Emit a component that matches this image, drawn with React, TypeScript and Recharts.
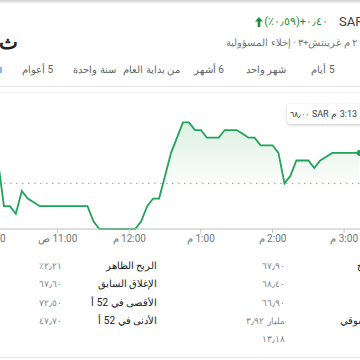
import React from 'react';
import { ComposedChart, Area, XAxis, YAxis, CartesianGrid, ReferenceLine } from 'recharts';

// minutes after 10:00 and the price at that minute (SAR)
const minutes = [
  0, 5, 10, 15, 20, 25, 30, 35, 40, 45, 50, 55, 60, 65, 70, 75, 80, 85, 90, 95,
  100, 105, 110, 115, 120, 125, 130, 135, 140, 145, 150, 155, 160, 165, 170, 175,
  180, 185, 190, 195, 200, 205, 210, 215, 220, 225, 230, 235, 240, 245, 250, 255,
  260, 265, 270, 275, 280, 285, 290, 295, 300, 305, 310, 313,
];
const prices = [
  67.9, 67.9, 67.9, 67.3, 67.3, 67.2, 67.5, 67.4, 67.35, 67.3, 67.3, 67.3, 67.3, 67.3, 67.3, 67.3, 67.3, 67.3, 67.1, 67.0,
  67.0, 67.0, 67.0, 67.0, 67.0, 67.0, 67.1, 67.3, 67.4, 67.4, 67.7, 68.0, 68.2, 68.4, 68.4, 68.3,
  68.3, 68.2, 68.2, 68.2, 68.3, 68.3, 68.3, 68.25, 68.2, 68.2, 68.1, 68.1, 68.1, 68.0, 67.6, 67.7,
  67.9, 67.9, 67.9, 67.8, 67.9, 67.95, 68.0, 68.0, 68.0, 68.0, 68.0, 68.0,
];
const prevClose = 67.6;

const xTicks = [0, 60, 120, 180, 240, 300];
const xTickLabels = ['ص\u200E 10:00', 'ص\u200E 11:00', 'م\u200E 12:00', 'م\u200E 1:00', 'م\u200E 2:00', 'م\u200E 3:00'];
const yTicks = [67, 67.5, 68, 68.5];

const tabs = ['5 أعوام', 'سنة واحدة', 'من بداية العام', '6 أشهر', 'شهر واحد', '5 أيام'];

const leftLabels = ['الربح الظاهر', 'الإغلاق السابق', 'الأقصى في 52 أ', 'الأدنى في 52 أ'];
const leftValues = ['٪٢٫٢١', '٦٧٫٦٠', '٧٢٫٥٠', '٤٧٫٧٠'];
const rightLabels = ['الافتتاح', 'الأعلى', 'الأدنى', 'رأس المال السوقي', 'نسبة السعر إلى الربح'];
const rightValues = ['٦٧٫٩٠', '٦٨٫٤٠', '٦٦٫٩٠', '٣٫٩٢ مليار', '١٣٫١٨'];

const data = minutes.map((m, i) => ({ m, v: prices[i] }));

const GREEN = '#22a35a';
const rowY = [266, 284, 302.5, 321, 338.5];
const rightLabelLeft = [357, 365, 365, 340, 365];

// keep the typed character order on screen
const ltr: React.CSSProperties = { unicodeBidi: 'bidi-override', direction: 'ltr' };

export default function App() {
  const last = data.length - 1;
  return (
    <div
      style={{
        position: 'fixed',
        left: 0,
        top: 0,
        width: 360,
        height: 360,
        overflow: 'hidden',
        background: '#fff',
        fontFamily: 'Roboto, Arial, sans-serif',
      }}
    >
      <div style={{ position: 'absolute', left: 0, top: 0, width: 360, height: 4, background: 'linear-gradient(#d0d0d0, rgba(255,255,255,0))' }} />

      {/* price change + currency */}
      <div style={{ position: 'absolute', right: 32, top: 14, display: 'flex', alignItems: 'center', color: '#1e8e3e', fontSize: 11, lineHeight: '16px', whiteSpace: 'nowrap' }}>
        <svg width="8" height="10" viewBox="0 0 8 10" style={{ marginRight: 1 }}>
          <path d="M4 0 L8 4.5 L5.3 4.5 L5.3 10 L2.7 10 L2.7 4.5 L0 4.5 Z" fill="#1e8e3e" />
        </svg>
        <span style={ltr}>(٪٠٫٥٩)</span>
        <span style={ltr}>+٠٫٤٠</span>
      </div>
      <div style={{ position: 'absolute', left: 339, top: 14, fontSize: 13, lineHeight: '16px', color: '#3c4043' }}>SAR</div>

      <div style={{ position: 'absolute', left: -1, top: 29, fontSize: 20, fontWeight: 'bold', lineHeight: '26px', color: '#202124' }}>ث</div>
      <div dir="rtl" style={{ position: 'absolute', right: 3, top: 37, fontSize: 9.5, lineHeight: '12px', color: '#70757a', whiteSpace: 'nowrap' }}>
        ٢ م غرينتش+٣ · إخلاء المسؤولية
      </div>

      {/* range tabs */}
      <div style={{ position: 'absolute', left: 0, top: 67, width: 1.5, height: 6, background: '#8ab4f8' }} />
      {tabs.map((t, i) => (
        <div
          key={t}
          dir="rtl"
          style={{
            position: 'absolute',
            left: 37.5 + i * 57.1,
            top: 64,
            transform: 'translateX(-50%)',
            fontSize: 10,
            lineHeight: '12px',
            color: '#5f6368',
            whiteSpace: 'nowrap',
          }}
        >
          {t}
        </div>
      ))}
      <div style={{ position: 'absolute', left: 0, top: 86, width: 360, height: 1, background: '#e3e3e3' }} />

      {/* chart */}
      <div style={{ position: 'absolute', left: -14, top: 92 }}>
        <ComposedChart width={382} height={167} data={data} margin={{ top: 0, right: 0, bottom: 0, left: 0 }}>
          <defs>
            <linearGradient id="upFill" x1="0" y1="0" x2="0" y2="1">
              <stop offset="0" stopColor="#34a853" stopOpacity={0.28} />
              <stop offset="0.64" stopColor="#34a853" stopOpacity={0} />
            </linearGradient>
          </defs>
          <CartesianGrid horizontal vertical={false} stroke="#ececec" />
          <XAxis
            dataKey="m"
            type="number"
            domain={[0, 320]}
            ticks={xTicks}
            interval={0}
            tickFormatter={(v: number) => xTickLabels[xTicks.indexOf(v)] ?? ''}
            tick={{ fill: '#70757a', fontSize: 10 }}
            tickSize={4}
            tickLine={{ stroke: '#c4c7c5' }}
            axisLine={{ stroke: '#c4c7c5' }}
            height={30}
          />
          <YAxis type="number" domain={[67, 68.8]} ticks={yTicks} width={0} tick={false} axisLine={false} tickLine={false} />
          <ReferenceLine y={prevClose} stroke="#9aa0a6" strokeDasharray="1.5 4.5" />
          <Area
            type="linear"
            dataKey="v"
            stroke={GREEN}
            strokeWidth={1.8}
            fill="url(#upFill)"
            isAnimationActive={false}
            dot={(p: any) =>
              p.index === last ? (
                <circle key="end" cx={p.cx} cy={p.cy} r={3} fill={GREEN} />
              ) : (
                <g key={p.index} />
              )
            }
            activeDot={false}
          />
        </ComposedChart>
      </div>

      {/* hover readout */}
      <div
        style={{
          position: 'absolute',
          left: 287,
          top: 104,
          width: 92,
          height: 20,
          background: '#fff',
          borderRadius: 4,
          boxShadow: '0 1px 3px rgba(60,64,67,0.3)',
          display: 'flex',
          alignItems: 'center',
          justifyContent: 'flex-end',
          gap: 2.5,
          paddingRight: 22,
          boxSizing: 'border-box',
          fontSize: 9,
          color: '#3c4043',
          whiteSpace: 'nowrap',
        }}
      >
        <span style={{ ...ltr, fontSize: 7.5 }}>٦٨٫٠٠</span>
        <span>SAR</span>
        <span>م</span>
        <span>3:13</span>
      </div>

      {/* stats */}
      {leftLabels.map((l, i) => (
        <div key={l} dir="rtl" style={{ position: 'absolute', right: 203, top: rowY[i] - 6, fontSize: 10, lineHeight: '12px', color: '#202124', whiteSpace: 'nowrap' }}>
          {l}
        </div>
      ))}
      {leftValues.map((v, i) => (
        <div key={v} style={{ ...ltr, position: 'absolute', right: 298, top: rowY[i] - 5, fontSize: 8.5, lineHeight: '10px', color: '#80868b', whiteSpace: 'nowrap' }}>
          {v}
        </div>
      ))}
      {rightLabels.map((l, i) => (
        <div key={l} dir="rtl" style={{ position: 'absolute', left: rightLabelLeft[i], top: rowY[i] - 6, fontSize: 10, lineHeight: '12px', color: '#202124', whiteSpace: 'nowrap' }}>
          {l}
        </div>
      ))}
      {rightValues.map((v, i) => (
        <div key={v} style={{ position: 'absolute', right: 75, top: rowY[i] - 5, fontSize: 8.5, lineHeight: '10px', color: '#80868b', whiteSpace: 'nowrap', display: 'flex', gap: 3 }}>
          {v.split(' ').map((part) => (
            <span key={part} style={{ unicodeBidi: 'isolate' }}>{part}</span>
          ))}
        </div>
      ))}
      <div style={{ position: 'absolute', left: 0, top: 357, width: 360, height: 1, background: '#e3e3e3' }} />
    </div>
  );
}
